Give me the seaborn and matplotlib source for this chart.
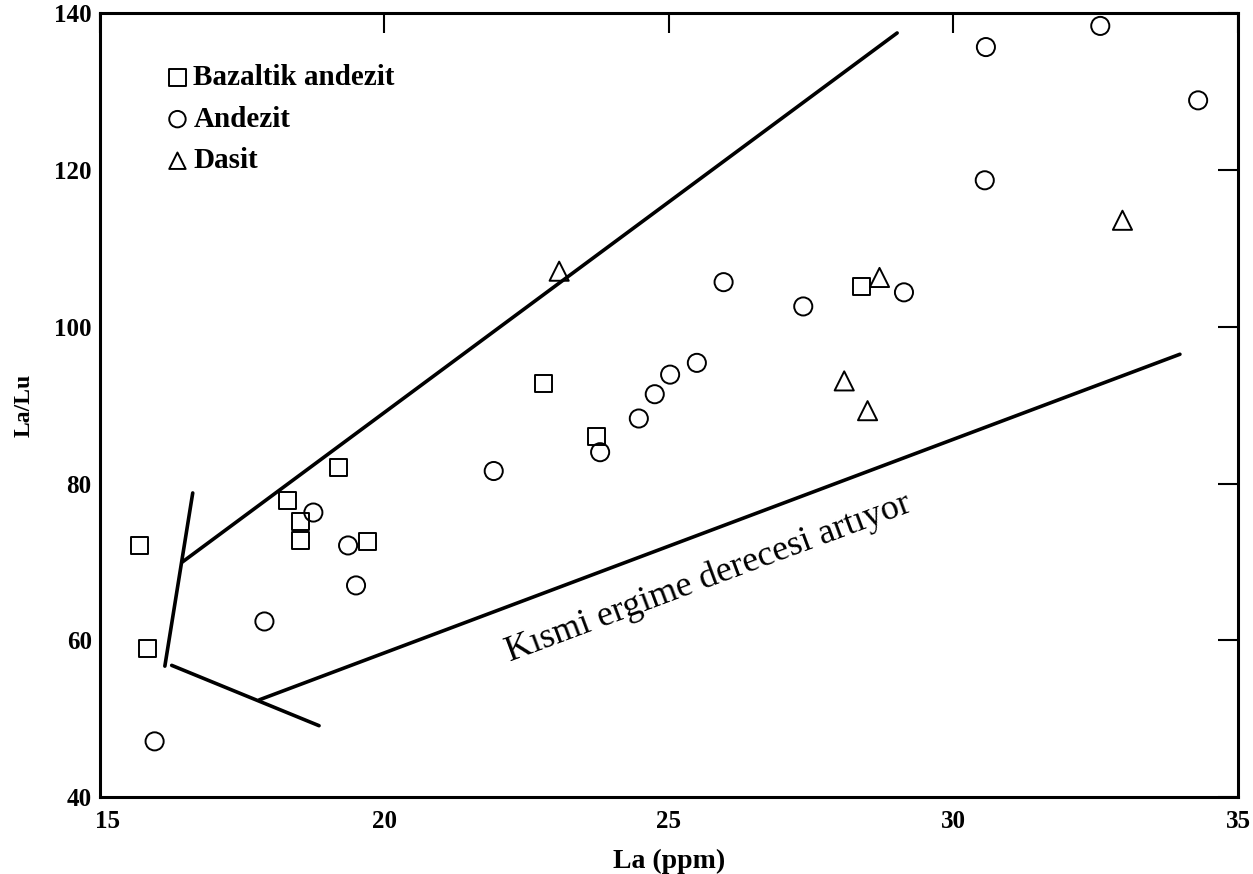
import matplotlib
matplotlib.use("Agg")
import matplotlib.pyplot as plt
import matplotlib.transforms as mtransforms
import seaborn as sns
import numpy as np

# ---- data ----
bazaltik_x = [15.70, 15.84, 18.29, 18.52, 18.52, 19.19, 19.71, 22.79, 23.72, 28.38]
bazaltik_y = [72.1, 59.0, 77.9, 75.2, 72.7, 82.1, 72.6, 92.8, 86.0, 105.1]

andezit_x = [15.96, 17.89, 18.75, 19.36, 19.50, 21.92, 23.79, 24.47, 24.75, 25.02,
             25.49, 25.96, 27.36, 29.13, 30.55, 30.57, 32.58, 34.30]
andezit_y = [47.1, 62.4, 76.3, 72.1, 67.0, 81.6, 84.0, 88.3, 91.4, 93.9,
             95.4, 105.7, 102.6, 104.4, 118.7, 135.7, 138.4, 128.9]

dasit_x = [23.07, 28.08, 28.49, 28.70, 32.97]
dasit_y = [107.1, 93.1, 89.3, 106.3, 113.6]

upper_line_x = [16.45, 29.01]
upper_line_y = [70.0, 137.5]
vert_line_x = [16.63, 16.14]
vert_line_y = [78.8, 56.7]
lowleft_line_x = [16.26, 18.85]
lowleft_line_y = [56.8, 49.1]
lower_line_x = [17.80, 33.98]
lower_line_y = [52.4, 96.5]

x_ticks = [15, 20, 25, 30, 35]
y_ticks = [40, 60, 80, 100, 120, 140]

annot_text = "Kısmi ergime derecesi artıyor"
annot_x, annot_y = 25.70, 67.9

sns.set_style("white")
plt.rcParams['font.family'] = ['Liberation Serif', 'DejaVu Serif']
plt.rcParams['text.color'] = 'black'
plt.rcParams['axes.labelcolor'] = 'black'
plt.rcParams['xtick.color'] = 'black'
plt.rcParams['ytick.color'] = 'black'

fig = plt.figure(figsize=(12.53, 8.74), dpi=100)
ax = fig.add_axes([0.0798, 0.0881, 0.9082, 0.8966])

groups = [
    (bazaltik_x, bazaltik_y, 's', 'Bazaltik andezit', 150),
    (andezit_x, andezit_y, 'o', 'Andezit', 170),
    (dasit_x, dasit_y, '^', 'Dasit', 190),
]
for gx, gy, m, lab, sz in groups:
    sns.scatterplot(x=gx, y=gy, marker=m, s=sz, facecolor='none',
                    edgecolor='black', linewidth=1.4, label=lab, ax=ax, zorder=3)
for coll in ax.collections:
    coll.set_facecolor('none')
    coll.set_edgecolor('black')

for lx, ly in [(upper_line_x, upper_line_y), (vert_line_x, vert_line_y),
               (lowleft_line_x, lowleft_line_y), (lower_line_x, lower_line_y)]:
    sns.lineplot(x=lx, y=ly, sort=False, color='black', linewidth=2.6, ax=ax,
                 estimator=None)

ax.text(annot_x, annot_y, annot_text, rotation=20.5, ha='center', va='center',
        fontsize=26, color='black')

ax.set_xlim(15, 35)
ax.set_ylim(40, 140)
ax.set_xticks(x_ticks)
ax.set_yticks(y_ticks)
ax.tick_params(direction='in', length=14.5, width=1.5, top=True, right=True,
               labelsize=18, colors='black')
ax.tick_params(axis='x', pad=9)
ax.tick_params(axis='y', pad=6)
fig.canvas.draw()
xl = ax.get_xticklabels()
for lbl in xl + ax.get_yticklabels():
    lbl.set_fontweight('bold')
xl[0].set_transform(xl[0].get_transform() +
                    mtransforms.ScaledTranslation(8 / 100, 0, fig.dpi_scale_trans))
for sp in ax.spines.values():
    sp.set_linewidth(2.2)
    sp.set_color('black')

ax.set_xlabel("La (ppm)", fontsize=20, fontweight='bold', labelpad=12)
ax.set_ylabel("La/Lu", fontsize=17, fontweight='bold', labelpad=14)

leg = ax.legend(loc='upper left', bbox_to_anchor=(0.045, 0.95), frameon=False,
                prop={'size': 21, 'weight': 'bold'}, handletextpad=0.05,
                labelspacing=0.5, borderaxespad=0, handlelength=1.0)
for t in leg.get_texts():
    t.set_color('black')
for h in leg.legend_handles:
    h.set_facecolor('none')
    h.set_edgecolor('black')
    h.set_sizes([140])

fig.savefig("out.png", dpi=100, facecolor='white')
